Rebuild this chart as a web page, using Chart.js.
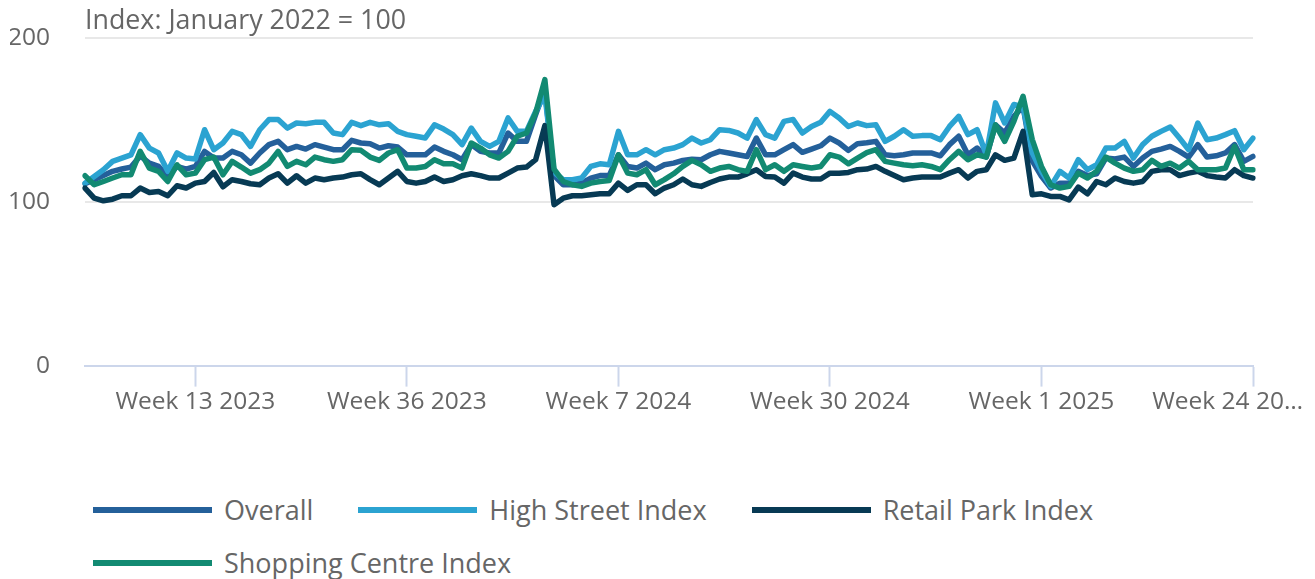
<!DOCTYPE html>
<html>
<head>
<meta charset="utf-8">
<script src="https://cdn.jsdelivr.net/npm/chart.js@4.4.0/dist/chart.umd.min.js"></script>
<style>
  body { margin: 0; background: #fff; }
  #wrap { position: relative; width: 1315px; height: 579px; font-family: 'Open Sans', sans-serif; color: #666; }
  #chart { position: absolute; left: 0; top: 0; }
  #title { position: absolute; left: 85px; top: 6px; font-size: 26.8px; line-height: 26px; white-space: nowrap; }
  #legend { position: absolute; left: 93px; top: 483px; width: 1150px; display: flex; flex-wrap: wrap; }
  .item { display: flex; align-items: center; height: 53px; margin-right: 45px; font-size: 27px; }
  .swatch { width: 119px; height: 6px; margin-right: 12px; }
</style>
</head>
<body>
<div id="wrap">
  <canvas id="chart" width="1315" height="420"></canvas>
  <div id="title">Index: January 2022 = 100</div>
  <div id="legend"></div>
</div>
<script>
// weeks per year shown on the axis
const yearWeeks = [[2023, 52], [2024, 52], [2025, 24]];
const tickEvery = 23;
const firstTick = 12;

const overall = [
  111, 113.5, 116, 118.6, 120, 121.2, 128, 123.6, 121.6, 115.5,
  121.6, 120, 121.6, 130.8, 126.7, 126.7, 130.8, 128.7, 123.6, 129.8,
  134.9, 136.9, 131.8, 133.8, 132.2, 134.9, 133.4, 131.8, 131.8, 137.5,
  135.9, 135.5, 132.8, 134.2, 133.4, 128.7, 128.7, 128.7, 133.4, 130.8,
  128.7, 125.7, 134.9, 130.8, 129.8, 129.8, 142, 136.9, 136.9, 153.2,
  168.5, 116, 110.4, 110.4, 111.4, 114.5, 116, 116, 128.7, 121.6,
  120.6, 123.6, 119.6, 122.6, 123.6, 125.3, 126, 125.7, 128.7, 130.8,
  129.8, 128.7, 127.7, 138.9, 128.7, 128.7, 131.8, 134.9, 130.2, 132.2,
  134.2, 138.9, 135.9, 131.4, 135.5, 136, 136.9, 128.7, 128.1, 128.7,
  129.8, 129.8, 129.8, 128.1, 134.9, 140, 128.7, 132.8, 127.3, 147,
  142, 152.2, 158.3, 125, 115.5, 108.4, 111.4, 111.4, 118.6, 116,
  117.1, 126.7, 126.1, 127.3, 121.6, 126.7, 130.8, 132.2, 133.8, 130.8,
  127.3, 134.9, 127.3, 128.1, 129.8, 134.9, 124.7, 127.7
];

const highStreet = [
  111.4, 115.5, 119.6, 124.7, 126.7, 128.7, 141, 132.8, 129.8, 118.6,
  129.8, 126.7, 126.1, 144, 131.8, 135.9, 143, 141, 133.8, 144,
  150.2, 150.2, 145, 148.1, 147.7, 148.5, 148.5, 142, 141, 148.5,
  146.5, 148.5, 147, 147.7, 143, 141, 140, 139, 147, 144.4,
  141, 134.9, 145, 136.9, 133.8, 136.9, 151.2, 143, 143, 155.2,
  165.4, 118, 113.5, 113.5, 114.5, 121.6, 123.2, 122.6, 143, 128.7,
  128.7, 131.8, 128.7, 131.8, 132.8, 134.9, 138.9, 135.9, 137.9, 144,
  143.6, 142, 138.9, 150.2, 141, 138.9, 149.1, 150.2, 142, 146,
  148.5, 155.2, 151.2, 146, 148.1, 146.5, 147, 136.9, 140, 144,
  140, 140.4, 140.4, 137.9, 146, 152.2, 141, 144, 128.7, 160.4,
  148.1, 159.4, 158, 130, 118.6, 109.4, 118.6, 114.5, 125.7, 119.6,
  122.6, 132.8, 132.8, 136.9, 126.7, 134.9, 140, 143, 145.7, 138.9,
  131.8, 148.1, 137.9, 138.9, 141, 143.4, 131.8, 138.9
];

const retailPark = [
  108.4, 102.2, 100.6, 101.6, 103.7, 103.7, 108.4, 105.7, 106.3, 103.7,
  109.8, 108.4, 111.4, 112.4, 117.9, 109.2, 113.5, 112.4, 111, 110.4,
  114.5, 117.1, 111.4, 115.9, 111.4, 114.5, 113.5, 114.5, 115.1, 116.5,
  117.1, 113.5, 110.4, 114.5, 118.6, 112.4, 111.4, 112.4, 115.1, 112.4,
  113.5, 115.9, 117.1, 116, 114.5, 114.5, 117.5, 120.6, 121.2, 125.7,
  146.5, 98.2, 102.2, 103.7, 103.7, 104.3, 104.9, 104.9, 111.4, 107,
  110.4, 110.4, 104.9, 108.4, 110.4, 113.9, 110.4, 109.4, 111.8, 113.9,
  115.1, 115.1, 117.1, 119.6, 115.5, 115.1, 111.4, 117.5, 115.1, 113.9,
  113.9, 117.5, 117.5, 117.9, 119.6, 120, 121.6, 118.6, 116, 113.5,
  114.5, 115.1, 115.1, 115.1, 117.5, 119.6, 114.5, 118.6, 119.6, 128.7,
  125.3, 126.7, 143, 104.3, 104.9, 103.3, 103.3, 101.2, 109, 104.9,
  112.4, 110.4, 114.5, 112.4, 111.4, 112.4, 118.6, 119.6, 119.6, 116,
  117.5, 118.6, 116, 115.1, 114.5, 119.6, 116, 114.5
];

const shoppingCentre = [
  115.9, 110.4, 112.4, 114.5, 116.5, 116.5, 130.8, 120.6, 118.6, 112.4,
  122.6, 116.5, 117.5, 125.7, 127.3, 116.5, 124.7, 121.2, 117.5, 119.6,
  123.6, 130.8, 121.6, 124.7, 122.6, 127.3, 125.7, 124.7, 125.7, 131.8,
  131.4, 127.3, 125.3, 129.8, 131.8, 120.6, 120.6, 121.6, 125.7, 123.2,
  123.2, 120.6, 135.9, 132.8, 128.7, 126.7, 130.8, 140, 142, 154.2,
  174.6, 120, 112.4, 110.4, 109.4, 111.4, 112.4, 113, 128.7, 117.5,
  116.5, 119.6, 110.4, 113.5, 117.1, 121.6, 125.3, 122.6, 118.6, 120.6,
  121.6, 119.6, 118.6, 131.8, 119.6, 122.6, 118.6, 122.6, 121.6, 120.6,
  121.6, 128.7, 127.3, 123.2, 126.7, 130, 131.8, 124.7, 123.6, 122.6,
  122, 122.6, 121.6, 119.6, 125.7, 130.8, 125.7, 128.7, 127.3, 147,
  136.9, 149.1, 164.4, 138, 121.6, 110.4, 108.4, 109.4, 117.5, 114.5,
  118.6, 127.3, 123.6, 120.6, 118.6, 119.6, 125.3, 121.6, 123.6, 120.6,
  124.7, 119.6, 119.6, 119.6, 120.6, 133.8, 119.6, 119.6
];

const yTicks = [0, 100, 200];

let weeks = [];
yearWeeks.forEach(([year, n]) => {
    for (let w = 1; w <= n; w++) {
        weeks.push('Week ' + w + ' ' + year);
    }
});

function ChartConfig() {

    const config = {
        responsive: false,
        animation: false,
        layout: {
            padding: {left: 10, right: 62, top: 38, bottom: 2}
        },
        plugins: {
            legend: {display: false},
            tooltip: {enabled: false}
        },
        elements: {
            point: {radius: 0},
            line: {tension: 0, borderJoinStyle: 'round', borderCapStyle: 'round'}
        },
        scales: {
            x: {
                offset: false,
                grid: {
                    drawOnChartArea: false,
                    tickLength: 21,
                    tickWidth: 2,
                    tickColor: '#ccd6eb'
                },
                border: {color: '#ccd6eb', width: 2},
                ticks: {
                    autoSkip: false,
                    maxRotation: 0,
                    padding: 1,
                    color: '#666',
                    font: {size: 24.5},
                    callback: function (value, index, ticks) {
                        let label = this.getLabelForValue(value);
                        if (value === weeks.length - 1) {
                            // cut like the original axis does
                            label = label.slice(0, 10) + '\u2026        ';
                        }
                        return label;
                    }
                },
                afterBuildTicks: (scale) => {
                    scale.ticks = scale.ticks.filter(t => t.value >= firstTick && (t.value - firstTick) % tickEvery === 0);
                },
                afterFit: (scale) => {
                    scale.paddingLeft = 0;
                    scale.paddingRight = 0;
                }
            },
            y: {
                min: yTicks[0],
                max: yTicks[yTicks.length - 1],
                border: {display: false},
                grid: {
                    drawTicks: false,
                    lineWidth: 2,
                    color: (ctx) => ctx.tick && ctx.tick.value === 0 ? 'rgba(0,0,0,0)' : '#e8e8e8'
                },
                ticks: {
                    stepSize: 100,
                    padding: 35,
                    color: '#666',
                    font: {size: 24.5}
                },
                afterBuildTicks: (scale) => {
                    scale.ticks = yTicks.map(v => ({value: v}));
                },
                afterFit: (scale) => {
                    scale.width = 75;
                    scale.paddingTop = 0;
                    scale.paddingBottom = 0;
                }
            }
        }
    };

    return config
}

Chart.defaults.font.family = "'Open Sans', sans-serif";

const ctx = document.getElementById('chart');
let chart = new Chart(ctx, {
    type: 'line',
    options: ChartConfig(),
    data: {
        labels: weeks,
        datasets: [{
            label: 'Overall',
            borderColor: '#24609a',
            backgroundColor: '#24609a',
            borderWidth: 5.5,
            data: overall,
            order: 4
        }, {
            label: 'High Street Index',
            borderColor: '#2ba3d1',
            backgroundColor: '#2ba3d1',
            borderWidth: 5.5,
            data: highStreet,
            order: 3
        }, {
            label: 'Retail Park Index',
            borderColor: '#073a54',
            backgroundColor: '#073a54',
            borderWidth: 5.5,
            data: retailPark,
            order: 2
        }, {
            label: 'Shopping Centre Index',
            borderColor: '#128a72',
            backgroundColor: '#128a72',
            borderWidth: 5.5,
            data: shoppingCentre,
            order: 1
        }]
    }
});

// html legend, left aligned like the original
const legend = document.getElementById('legend');
chart.data.datasets.forEach((ds) => {
    const item = document.createElement('div');
    item.className = 'item';
    item.innerHTML = '<span class="swatch" style="background:' + ds.borderColor + '"></span><span>' + ds.label + '</span>';
    legend.appendChild(item);
});
</script>
</body>
</html>
